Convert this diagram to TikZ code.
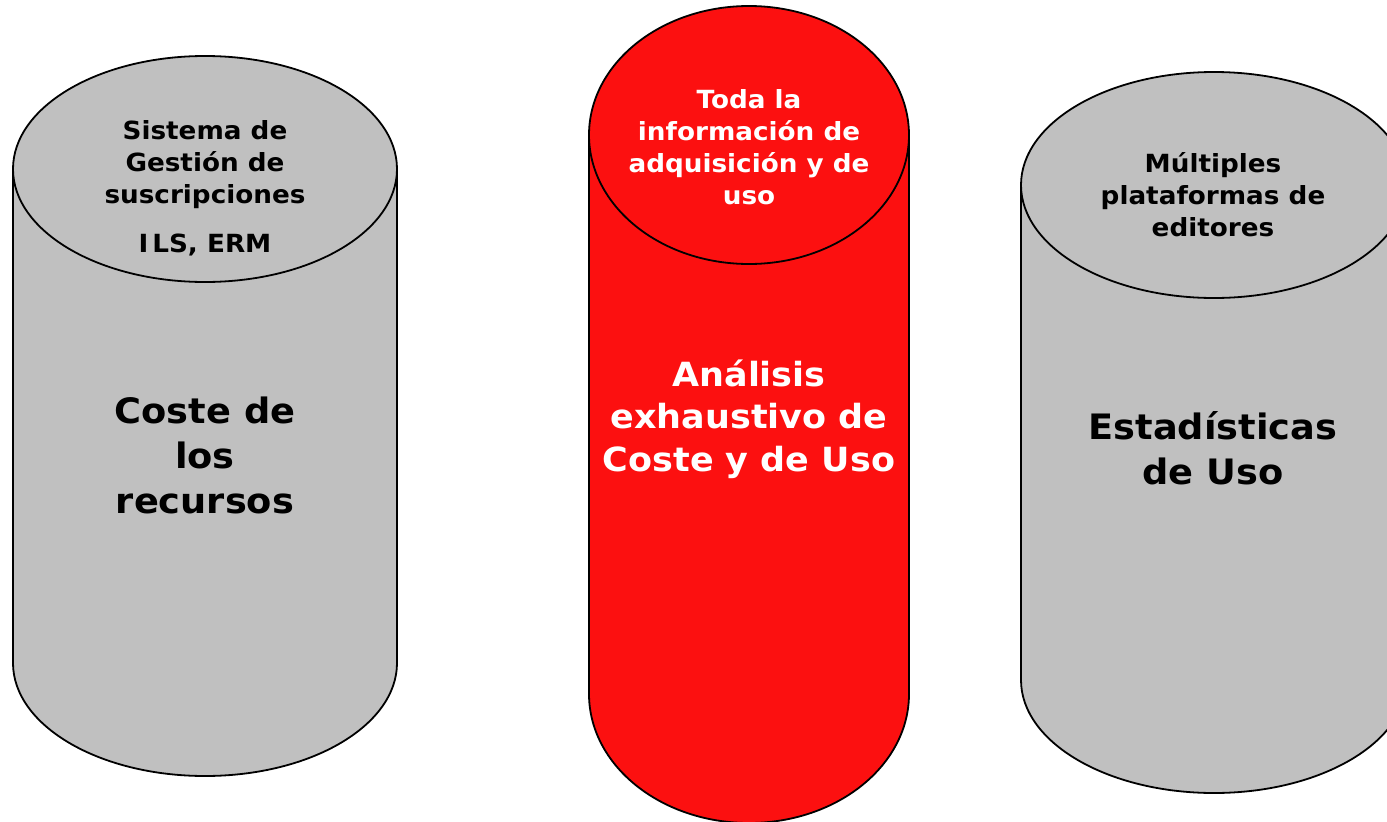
\documentclass[tikz,border=0pt]{standalone}
\usepackage{fontspec}
\setmainfont{DejaVu Sans}[FakeStretch=1.05]
\definecolor{cylgray}{HTML}{C0C0C0}
\definecolor{cylred}{HTML}{FC1010}
\tikzset{
  x=1pt,y=-1pt,
  cyl/.style={draw=black,line width=1.8pt},
  small/.style={align=center,font=\fontsize{25}{32}\selectfont\bfseries,inner sep=0pt},
  big/.style={align=center,font=\fontsize{35}{45}\selectfont\bfseries,inner sep=0pt},
  bigtight/.style={align=center,font=\fontsize{33.3}{42.5}\selectfont\bfseries,inner sep=0pt},
}
\newcommand{\cylinder}[6]{% cx, rx, top cy, bottom cy, ry, colour
  \fill[#6] (#1-#2,#3) -- (#1-#2,#4) arc[start angle=180,end angle=360,x radius=#2,y radius=-#5] -- (#1+#2,#3) arc[start angle=0,end angle=180,x radius=#2,y radius=-#5] -- cycle;
  \draw[cyl] (#1-#2,#3) -- (#1-#2,#4) arc[start angle=180,end angle=360,x radius=#2,y radius=-#5] -- (#1+#2,#3);
  \draw[cyl] (#1,#3) ellipse[x radius=#2,y radius=#5];
}
\begin{document}
\begin{tikzpicture}
\useasboundingbox (0,0) rectangle (1387,822);
\clip (0,0) rectangle (1387,822);
\fill[white] (0,0) rectangle (1387,822);
\cylinder{205}{192}{169}{663}{113}{cylgray}
\cylinder{749}{160}{135}{694}{129}{cylred}
\cylinder{1214}{193}{185}{680}{113}{cylgray}
\node[small] (a1) at (205,165) {Sistema de\\Gestión de\\suscripciones};
\node[small] (a2) at (205,245) {I\kern4pt LS, ERM};
\node[big] (a3) at (205,455) {Coste de\\los\\recursos};
\node[small,text=white] (b1) at (749,147) {Toda la\\información de\\adquisición y de\\uso};
\node[bigtight,text=white] (b2) at (749,419) {Análisis\\exhaustivo de\\Coste y de Uso};
\node[small] (c1) at (1213,195) {Múltiples\\plataformas de\\editores};
\node[big] (c2) at (1213,448) {Estadísticas\\de Uso};
\end{tikzpicture}
\end{document}
